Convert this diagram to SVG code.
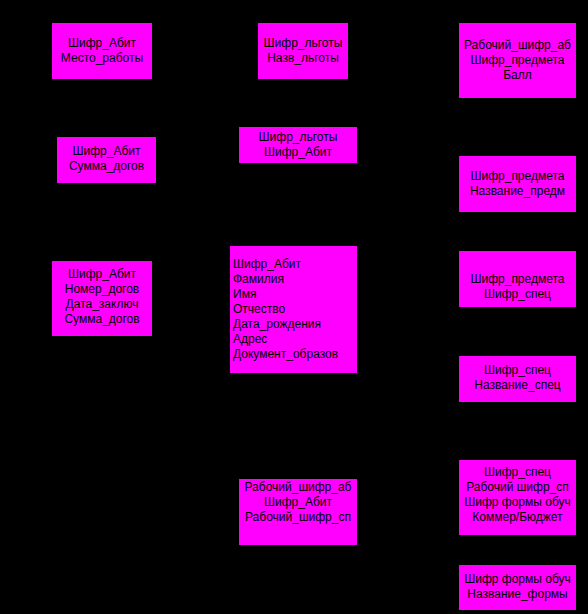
<svg xmlns="http://www.w3.org/2000/svg" width="588" height="614" viewBox="0 0 588 614">
<style>
.bg{fill:#000}
.n{fill:#ff00ff}
text{font-family:"Liberation Sans",Arial,sans-serif;font-size:12px;fill:#000;text-anchor:middle}
.l{text-anchor:start}
</style>
<rect class="bg" x="0" y="0" width="588" height="614"/>
<g id="connectors"></g>
<g id="n1"><rect class="n" x="52" y="23" width="100" height="56"/><text x="102" y="47">Шифр_Абит</text><text x="102" y="62">Место_работы</text></g>
<g id="n2"><rect class="n" x="258" y="23" width="90" height="56"/><text x="303" y="47">Шифр_льготы</text><text x="303" y="62">Назв_льготы</text></g>
<g id="n3"><rect class="n" x="459" y="23" width="117" height="75"/><text x="517.5" y="49">Рабочий_шифр_аб</text><text x="517.5" y="64">Шифр_предмета</text><text x="517.5" y="79">Балл</text></g>
<g id="n4"><rect class="n" x="57" y="137" width="99" height="46"/><text x="106.5" y="155">Шифр_Абит</text><text x="106.5" y="170">Сумма_догов</text></g>
<g id="n5"><rect class="n" x="239" y="127" width="118" height="36"/><text x="298" y="141">Шифр_льготы</text><text x="298" y="156">Шифр_Абит</text></g>
<g id="n6"><rect class="n" x="459" y="156" width="117" height="56"/><text x="517.5" y="180">Шифр_предмета</text><text x="517.5" y="195">Название_предм</text></g>
<g id="n7"><rect class="n" x="52" y="261" width="100" height="75"/><text x="102" y="278">Шифр_Абит</text><text x="102" y="293">Номер_догов</text><text x="102" y="308">Дата_заключ</text><text x="102" y="323">Сумма_догов</text></g>
<g id="n8"><rect class="n" x="230" y="246" width="127" height="127"/><text class="l" x="233" y="268">Шифр_Абит</text><text class="l" x="233" y="283">Фамилия</text><text class="l" x="233" y="298">Имя</text><text class="l" x="233" y="313">Отчество</text><text class="l" x="233" y="328">Дата_рождения</text><text class="l" x="233" y="343">Адрес</text><text class="l" x="233" y="358">Документ_образов</text></g>
<g id="n9"><rect class="n" x="459" y="251" width="117" height="56"/><text x="517.5" y="283">Шифр_предмета</text><text x="517.5" y="298">Шифр_спец</text></g>
<g id="n10"><rect class="n" x="459" y="356" width="117" height="46"/><text x="517.5" y="374">Шифр_спец</text><text x="517.5" y="389">Название_спец</text></g>
<g id="n11"><rect class="n" x="239" y="479" width="118" height="66"/><text x="298" y="491">Рабочий_шифр_аб</text><text x="298" y="506">Шифр_Абит</text><text x="298" y="521">Рабочий_шифр_сп</text></g>
<g id="n12"><rect class="n" x="459" y="460" width="117" height="75"/><text x="517.5" y="476">Шифр_спец</text><text x="517.5" y="491">Рабочий шифр_сп</text><text x="517.5" y="506">Шифр формы обуч</text><text x="517.5" y="521">Коммер/Бюджет</text></g>
<g id="n13"><rect class="n" x="459" y="565" width="117" height="45"/><text x="517.5" y="583">Шифр формы обуч</text><text x="517.5" y="598">Название_формы</text></g>
</svg>
